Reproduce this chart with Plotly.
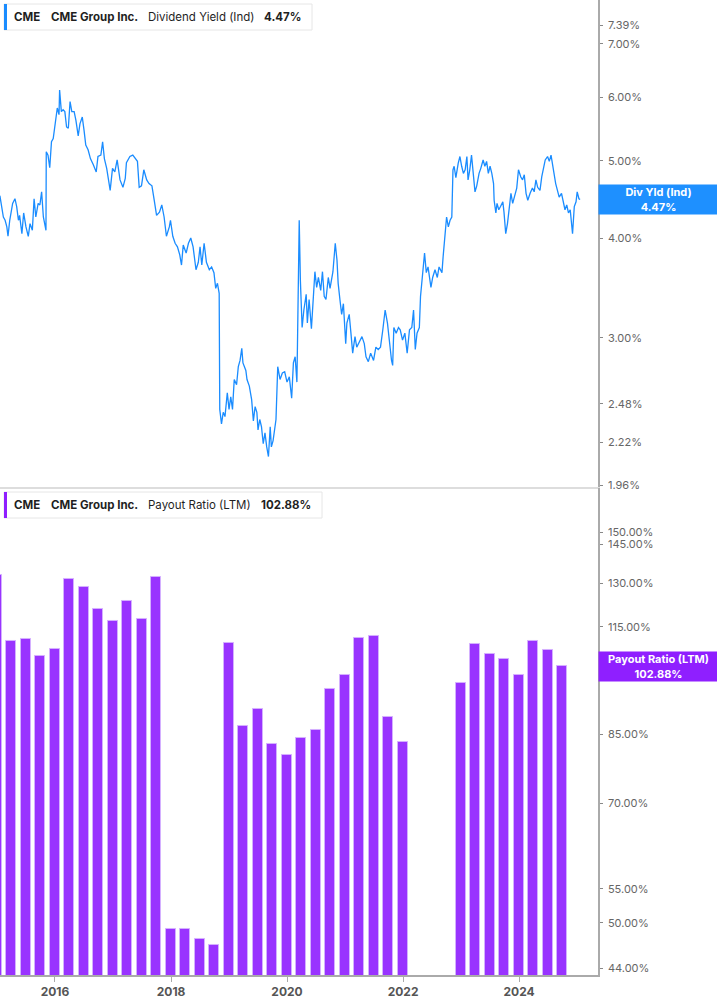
import math
from datetime import datetime
import plotly.graph_objects as go

# ---------------- data ----------------
# Dividend yield (Ind), % — date given as decimal year
yield_years = [
 2015.05, 2015.08, 2015.11, 2015.14, 2015.17, 2015.19, 2015.22, 2015.27, 2015.31, 2015.34,
 2015.37, 2015.39, 2015.43, 2015.46, 2015.50, 2015.54, 2015.57, 2015.61, 2015.64, 2015.67,
 2015.71, 2015.74, 2015.77, 2015.80, 2015.845, 2015.85, 2015.88, 2015.91, 2015.94, 2015.97,
 2016.00, 2016.04, 2016.07, 2016.08, 2016.11, 2016.14, 2016.17, 2016.20, 2016.23, 2016.26,
 2016.29, 2016.33, 2016.36, 2016.40, 2016.43, 2016.47, 2016.50, 2016.53, 2016.57, 2016.61,
 2016.66, 2016.71, 2016.74, 2016.79, 2016.82, 2016.85, 2016.89, 2016.95, 2016.99, 2017.03,
 2017.07, 2017.12, 2017.17, 2017.21, 2017.23, 2017.29, 2017.34, 2017.38, 2017.42, 2017.45,
 2017.49, 2017.53, 2017.58, 2017.62, 2017.67, 2017.71, 2017.75, 2017.80, 2017.84, 2017.88,
 2017.92, 2017.97, 2017.99, 2018.03, 2018.07, 2018.11, 2018.15, 2018.18, 2018.21, 2018.26,
 2018.30, 2018.34, 2018.38, 2018.43, 2018.47, 2018.50, 2018.53, 2018.57, 2018.61, 2018.66,
 2018.70, 2018.74, 2018.77, 2018.80, 2018.83, 2018.84, 2018.87, 2018.90, 2018.93, 2018.97,
 2019.00, 2019.03, 2019.06, 2019.09, 2019.13, 2019.16, 2019.19, 2019.22, 2019.24, 2019.29,
 2019.31, 2019.35, 2019.39, 2019.42, 2019.45, 2019.48, 2019.50, 2019.53, 2019.56, 2019.59,
 2019.62, 2019.65, 2019.68, 2019.71, 2019.73, 2019.76, 2019.81, 2019.84, 2019.88, 2019.92,
 2019.96, 2020.00, 2020.04, 2020.08, 2020.11, 2020.14, 2020.17, 2020.18, 2020.19, 2020.21,
 2020.23, 2020.26, 2020.29, 2020.33, 2020.35, 2020.38, 2020.42, 2020.45, 2020.48, 2020.51,
 2020.54, 2020.58, 2020.61, 2020.64, 2020.67, 2020.71, 2020.74, 2020.79, 2020.83, 2020.86,
 2020.88, 2020.91, 2020.94, 2020.97, 2021.01, 2021.03, 2021.07, 2021.10, 2021.13, 2021.17,
 2021.20, 2021.24, 2021.29, 2021.33, 2021.36, 2021.40, 2021.44, 2021.49, 2021.53, 2021.57,
 2021.61, 2021.65, 2021.69, 2021.73, 2021.76, 2021.80, 2021.82, 2021.84, 2021.88, 2021.92,
 2021.95, 2021.99, 2022.03, 2022.07, 2022.11, 2022.15, 2022.18, 2022.21, 2022.24, 2022.28,
 2022.30, 2022.34, 2022.37, 2022.40, 2022.43, 2022.48, 2022.51, 2022.55, 2022.59, 2022.62,
 2022.67, 2022.69, 2022.72, 2022.75, 2022.78, 2022.81, 2022.84, 2022.86, 2022.88, 2022.91,
 2022.95, 2022.98, 2023.01, 2023.04, 2023.07, 2023.10, 2023.12, 2023.15, 2023.18, 2023.21,
 2023.24, 2023.27, 2023.31, 2023.34, 2023.38, 2023.41, 2023.44, 2023.47, 2023.50, 2023.53,
 2023.56, 2023.57, 2023.60, 2023.62, 2023.65, 2023.68, 2023.72, 2023.74, 2023.77, 2023.80,
 2023.83, 2023.86, 2023.89, 2023.93, 2023.96, 2023.99, 2024.03, 2024.06, 2024.09, 2024.12,
 2024.15, 2024.19, 2024.23, 2024.26, 2024.29, 2024.32, 2024.36, 2024.39, 2024.42, 2024.45,
 2024.49, 2024.52, 2024.55, 2024.58, 2024.60, 2024.63, 2024.66, 2024.69, 2024.73, 2024.76,
 2024.79, 2024.82, 2024.85, 2024.88, 2024.91, 2024.92, 2024.95, 2024.98, 2025.00, 2025.03,
 2025.05,
]
yield_values = [
 4.52, 4.38, 4.25, 4.21, 4.13, 4.02, 4.21, 4.42, 4.48, 4.38,
 4.21, 4.27, 4.05, 4.30, 4.13, 4.02, 4.17, 4.09, 4.48, 4.25,
 4.42, 4.40, 4.57, 4.25, 4.09, 5.13, 5.08, 4.90, 5.28, 5.33,
 5.51, 5.82, 5.71, 6.13, 5.76, 5.79, 5.76, 5.51, 5.49, 5.93,
 5.76, 5.76, 5.62, 5.37, 5.56, 5.67, 5.46, 5.23, 5.16, 5.03,
 4.94, 4.84, 5.06, 5.08, 5.28, 5.03, 4.89, 4.59, 4.89, 4.84,
 5.01, 4.73, 4.63, 4.75, 4.97, 5.06, 5.08, 5.03, 4.99, 4.63,
 4.65, 4.87, 4.73, 4.68, 4.65, 4.46, 4.27, 4.31, 4.40, 4.25,
 4.02, 4.13, 4.21, 4.02, 3.94, 3.90, 3.81, 3.70, 3.92, 3.83,
 3.94, 4.00, 3.90, 3.65, 3.73, 3.90, 3.70, 3.94, 3.73, 3.65,
 3.68, 3.62, 3.46, 3.51, 3.41, 2.44, 2.34, 2.42, 2.39, 2.56,
 2.44, 2.53, 2.44, 2.66, 2.62, 2.76, 2.81, 2.91, 2.79, 2.73,
 2.66, 2.61, 2.51, 2.36, 2.46, 2.42, 2.30, 2.37, 2.32, 2.21,
 2.28, 2.19, 2.13, 2.32, 2.19, 2.23, 2.37, 2.76, 2.66, 2.71,
 2.72, 2.64, 2.68, 2.52, 2.79, 2.84, 2.64, 2.94, 3.47, 4.21,
 3.54, 3.09, 3.25, 3.40, 3.13, 3.35, 3.08, 3.38, 3.63, 3.47,
 3.57, 3.44, 3.63, 3.38, 3.35, 3.57, 3.46, 3.63, 3.94, 3.75,
 3.51, 3.35, 3.21, 3.31, 2.95, 3.13, 3.21, 3.04, 2.87, 3.01,
 2.92, 2.96, 3.01, 2.95, 2.84, 2.80, 2.87, 2.81, 2.92, 2.90,
 2.92, 3.07, 3.25, 3.13, 2.98, 2.81, 2.77, 3.09, 3.04, 3.09,
 3.07, 2.98, 3.04, 2.87, 3.07, 3.09, 3.25, 2.90, 3.04, 3.09,
 3.38, 3.65, 3.83, 3.62, 3.68, 3.47, 3.57, 3.65, 3.57, 3.68,
 3.62, 3.79, 4.05, 4.25, 4.13, 4.21, 4.25, 4.87, 4.92, 4.76,
 4.96, 5.06, 4.92, 4.82, 4.87, 5.06, 4.73, 4.87, 5.08, 4.82,
 4.57, 4.65, 4.82, 4.89, 5.01, 4.92, 4.99, 4.82, 4.92, 4.82,
 4.68, 4.46, 4.30, 4.42, 4.34, 4.38, 4.44, 4.31, 4.05, 4.17,
 4.38, 4.55, 4.42, 4.55, 4.62, 4.87, 4.77, 4.73, 4.80, 4.55,
 4.46, 4.55, 4.62, 4.57, 4.73, 4.63, 4.59, 4.77, 4.89, 5.01,
 5.06, 4.99, 5.08, 4.92, 4.82, 4.68, 4.59, 4.50, 4.55, 4.44,
 4.34, 4.40, 4.30, 4.34, 4.13, 4.05, 4.38, 4.44, 4.57, 4.48,
 4.47,
]

# Payout ratio (LTM), % — quarterly
payout_quarters = [
 "2014-12-31",
 "2015-03-31", "2015-06-30", "2015-09-30", "2015-12-31",
 "2016-03-31", "2016-06-30", "2016-09-30", "2016-12-31",
 "2017-03-31", "2017-06-30", "2017-09-30", "2017-12-31",
 "2018-03-31", "2018-06-30", "2018-09-30", "2018-12-31",
 "2019-03-31", "2019-06-30", "2019-09-30", "2019-12-31",
 "2020-03-31", "2020-06-30", "2020-09-30", "2020-12-31",
 "2021-03-31", "2021-06-30", "2021-09-30", "2021-12-31",
 "2022-03-31", "2022-06-30", "2022-09-30", "2022-12-31",
 "2023-03-31", "2023-06-30", "2023-09-30", "2023-12-31",
 "2024-03-31", "2024-06-30", "2024-09-30",
]
payout_values = [
 133.0,
 110.4, 111.0, 105.8, 107.9,
 131.4, 128.6, 120.9, 116.8,
 123.5, 117.6, 132.2, 49.1,
 49.2, 47.8, 47.0, 109.8,
 87.0, 91.2, 82.6, 80.2,
 84.0, 85.9, 96.5, 100.3,
 111.5, 112.1, 89.1, 83.2,
 None, None, None, 98.1,
 109.5, 106.4, 105.0, 100.4,
 110.6, 107.6, 102.88,
]

yield_ticks = [1.96, 2.22, 2.48, 3.0, 4.0, 5.0, 6.0, 7.0, 7.39]
payout_ticks = [44, 50, 55, 70, 85, 100, 115, 130, 145, 150]
last_yield = 4.47
last_payout = 102.88

# ---------------- helpers ----------------
def dec_to_date(d):
    y = int(d)
    start = datetime(y, 1, 1)
    end = datetime(y + 1, 1, 1)
    return start + (end - start) * (d - y)

yield_dates = [dec_to_date(d) for d in yield_years]

BLUE = "#1a8cff"
PURPLE = "#9933ff"
FONT = "Inter, Roboto, 'Noto Sans', sans-serif"

W, H = 717, 1005
PL, PR, PT, PB = 0, 598, 0, 975  # plot area in pixels

fig = go.Figure()

fig.add_trace(go.Scatter(
    x=yield_dates, y=yield_values, mode="lines",
    line=dict(color=BLUE, width=1.3), xaxis="x", yaxis="y",
    showlegend=False, hoverinfo="skip"))

fig.add_trace(go.Bar(
    x=payout_quarters, y=payout_values, xaxis="x2", yaxis="y2",
    width=63 * 86400000,
    marker=dict(color=PURPLE, line=dict(color="#d4b0ff", width=1)),
    showlegend=False, hoverinfo="skip"))

def px_x(p):
    return (p - PL) / (PR - PL)

def px_y(p):
    return (PB - p) / (PB - PT)

xrange_ = ["2015-01-20", "2025-05-12"]
tickfont = dict(family=FONT, size=11, color="#666666")

fig.update_layout(
    width=W, height=H,
    margin=dict(l=PL, r=W - PR, t=PT, b=H - PB),
    paper_bgcolor="white", plot_bgcolor="white",
    font=dict(family=FONT),
    bargap=0,
    xaxis=dict(domain=[0, 1], anchor="y", type="date", range=xrange_,
               showgrid=False, showticklabels=False, ticks="",
               showline=True, linecolor="#dddddd", linewidth=2, zeroline=False),
    yaxis=dict(domain=[1 - 487 / 975, 1], anchor="x", type="log", side="right",
               range=[0.2902, 0.9002], showgrid=False, zeroline=False,
               showline=True, linecolor="#aaaaaa", linewidth=1.5,
               ticks="outside", ticklen=3, tickcolor="#888888",
               ticklabelstandoff=3,
               tickvals=yield_ticks,
               ticktext=[f"{v:.2f}%" for v in yield_ticks],
               tickfont=tickfont),
    xaxis2=dict(domain=[0, 1], anchor="y2", type="date", range=xrange_,
                matches="x", showgrid=False, zeroline=False,
                showline=True, linecolor="#aaaaaa", linewidth=1.5,
                ticks="outside", ticklen=5, tickcolor="#aaaaaa",
                tick0="2016-01-01", dtick="M24", tickformat="%Y",
                tickfont=dict(family=FONT, size=12, color="#555555", weight="bold")),
    yaxis2=dict(domain=[0, 1 - 487 / 975 - 0.001], anchor="x2", type="log", side="right",
                range=[1.6353, 2.2302], showgrid=False, zeroline=False,
                showline=True, linecolor="#aaaaaa", linewidth=1.5,
                ticks="outside", ticklen=3, tickcolor="#888888",
                ticklabelstandoff=3,
                tickvals=payout_ticks,
                ticktext=[f"{v:.2f}%" for v in payout_ticks],
                tickfont=tickfont),
)

shapes = []
annotations = []

def legend_box(y0, y1, x1, color, parts):
    shapes.append(dict(type="rect", xref="paper", yref="paper",
                       x0=px_x(4), x1=px_x(x1), y0=px_y(y1), y1=px_y(y0),
                       fillcolor="white", line=dict(color="#e6e6e6", width=1), layer="above"))
    shapes.append(dict(type="rect", xref="paper", yref="paper",
                       x0=px_x(4), x1=px_x(7), y0=px_y(y1), y1=px_y(y0),
                       fillcolor=color, line=dict(width=0), layer="above"))
    yc = px_y((y0 + y1) / 2)
    for xpos, txt, bold in parts:
        annotations.append(dict(xref="paper", yref="paper", x=px_x(xpos), y=yc,
                                xanchor="left", yanchor="middle", showarrow=False,
                                text=f"<b>{txt}</b>" if bold else txt,
                                font=dict(family=FONT, size=11.5, color="#1f1f1f")))

legend_box(4, 30, 312, BLUE, [
    (12, "CME", True), (49, "CME Group Inc.", True),
    (146, "Dividend Yield (Ind)", False), (262, f"{last_yield:.2f}%", True)])
legend_box(492, 518, 322, "#8f1fff", [
    (12, "CME", True), (49, "CME Group Inc.", True),
    (146, "Payout Ratio (LTM)", False), (259, f"{last_payout:.2f}%", True)])

# value labels at right axis
annotations.append(dict(xref="paper", yref="y", x=1, y=math.log10(last_yield),
                        xanchor="left", yanchor="middle", showarrow=False,
                        text=f"Div Yld (Ind)<br>{last_yield:.2f}%",
                        bgcolor="#1e90ff", width=117, height=27, borderpad=1,
                        font=dict(family=FONT, size=11, color="white", weight="bold")))
annotations.append(dict(xref="paper", yref="y2", x=1, y=math.log10(last_payout),
                        xanchor="left", yanchor="middle", showarrow=False,
                        text=f"Payout Ratio (LTM)<br>{last_payout:.2f}%",
                        bgcolor="#8f1fff", width=117, height=27, borderpad=1,
                        font=dict(family=FONT, size=11, color="white", weight="bold")))

fig.update_layout(shapes=shapes, annotations=annotations)

fig.write_html(
    "out.html",
    config={"displayModeBar": False},
    post_script="document.body.style.margin='0';document.body.style.overflow='hidden';",
)
